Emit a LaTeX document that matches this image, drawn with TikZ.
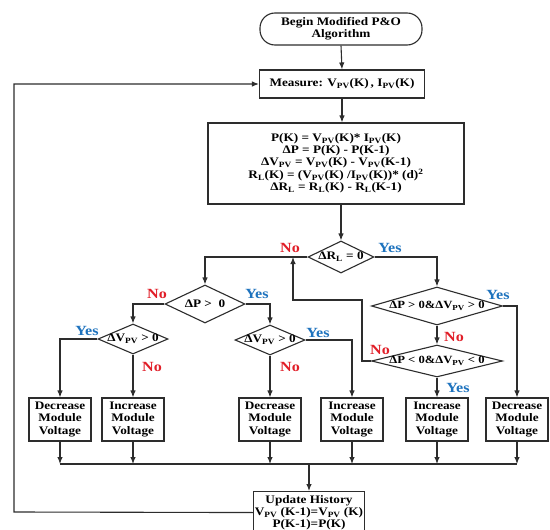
\documentclass[tikz,border=0pt]{standalone}
\usepackage{fontspec}
\setmainfont{Liberation Serif}[FakeStretch=1.15]
\usetikzlibrary{shapes.geometric,arrows.meta}
\definecolor{yesblue}{RGB}{30,115,190}
\definecolor{nored}{RGB}{225,30,40}
\definecolor{lncol}{RGB}{45,45,45}
\newcommand\sbs[1]{\textsubscript{#1}}
\begin{document}
\begin{tikzpicture}[x=1pt,y=-1pt,
  every node/.style={font=\bfseries},
  lnst/.style={draw=lncol, line width=1.1pt},
  arr/.style={lnst, -{Latex[length=7pt,width=5.5pt]}},
  box/.style={draw=lncol, line width=1.1pt, rectangle, inner sep=1pt, align=center, font=\bfseries\fontsize{11.5}{12.5}\selectfont},
  dia/.style={draw=lncol, line width=1.1pt, diamond, inner sep=0pt},
  dtxt/.style={font=\bfseries\fontsize{11.5}{12}\selectfont, inner sep=0pt},
  dtxts/.style={font=\bfseries\fontsize{11}{12}\selectfont, inner sep=0pt},
  yes/.style={text=yesblue, font=\bfseries\fontsize{14}{14}\selectfont},
  no/.style={text=nored, font=\bfseries\fontsize{14}{14}\selectfont},
]
\useasboundingbox (0,0) rectangle (550,530);
\clip (0,0) rectangle (550,530);
\fill[white] (0,0) rectangle (550,530);

% nodes
\node[box, rounded corners=15pt, minimum width=162pt, minimum height=32pt, font=\bfseries\fontsize{11.5}{12}\selectfont] (start) at (341,29) {Begin Modified P\&O\\Algorithm};
\node[box, minimum width=165pt, minimum height=28pt] (meas) at (342,84) {Measure: V\sbs{PV}(K)\,, I\sbs{PV}(K)};
\node[box, minimum width=256pt, minimum height=81pt, font=\bfseries\fontsize{11.5}{12}\selectfont] (calc) at (336,163.5) {P(K) = V\sbs{PV}(K)* I\sbs{PV}(K)\\ ΔP = P(K) - P(K-1)\\ ΔV\sbs{PV} = V\sbs{PV}(K) - V\sbs{PV}(K-1)\\ R\sbs{L}(K) = (V\sbs{PV}(K) /I\sbs{PV}(K))* (d)\textsuperscript{2}\\ ΔR\sbs{L} = R\sbs{L}(K) - R\sbs{L}(K-1)};

\node[dia, minimum width=66pt, minimum height=32pt] (d0) at (341,257) {};
\node[dtxt] at (d0) {ΔR\sbs{L} = 0};
\node[dia, minimum width=80pt, minimum height=38pt] (d1) at (205,304) {};
\node[dtxt] at (d1) {ΔP >\ \ 0};
\node[dia, minimum width=70pt, minimum height=30pt] (d2) at (133,339) {};
\node[dtxt] at (d2) {ΔV\sbs{PV} > 0};
\node[dia, minimum width=70pt, minimum height=30pt] (d3) at (270,340) {};
\node[dtxt] at (d3) {ΔV\sbs{PV} > 0};
\node[dia, minimum width=131pt, minimum height=38pt] (d4) at (437,306) {};
\node[dtxts] at (d4) {ΔP > 0\&ΔV\sbs{PV} > 0};
\node[dia, minimum width=131pt, minimum height=32pt] (d5) at (437,361) {};
\node[dtxts] at (d5) {ΔP < 0\&ΔV\sbs{PV} < 0};

\node[box, minimum width=62pt, minimum height=43pt] (b1) at (60,419.5) {Decrease\\Module\\Voltage};
\node[box, minimum width=62pt, minimum height=43pt] (b2) at (133,419.5) {Increase\\Module\\Voltage};
\node[box, minimum width=62pt, minimum height=43pt] (b3) at (270,419.5) {Decrease\\Module\\Voltage};
\node[box, minimum width=62pt, minimum height=43pt] (b4) at (352,419.5) {Increase\\Module\\Voltage};
\node[box, minimum width=62pt, minimum height=43pt] (b5) at (437,419.5) {Increase\\Module\\Voltage};
\node[box, minimum width=62pt, minimum height=43pt] (b6) at (517,419.5) {Decrease\\Module\\Voltage};

\node[box, minimum width=110pt, minimum height=42pt, anchor=north, font=\bfseries\fontsize{11.5}{12}\selectfont] (upd) at (309,491) {Update History\\V\sbs{PV} (K-1)=V\sbs{PV} (K)\\P(K-1)=P(K)};

% connectors
\draw[arr] (start.south) -- (meas.north);
\draw[arr] (meas.south) -- (meas.south |- calc.north);
\draw[arr] (calc.south -| d0) -- (d0.north);
\draw[arr] (d0.west) -| (d1.north);
\draw[arr] (d0.east) -| (d4.north);
\draw[arr] (d1.west) -| (d2.north);
\draw[arr] (d1.east) -| (d3.north);
\draw[arr] (d2.west) -| (b1.north);
\draw[arr] (d2.south) -- (b2.north);
\draw[arr] (d3.south) -- (b3.north);
\draw[arr] (d3.east) -| (b4.north);
\draw[arr] (d4.east) -| (b6.north);
\draw[arr] (d4.south) -- (d5.north);
\draw[arr] (d5.south) -- (b5.north);
\coordinate (la) at (362,300);
\coordinate (lb) at (293,300);
\draw[arr] (d5.west) -| (la) -- (lb) -- (lb |- d0);

\coordinate (bus) at (309,464);
\draw[lnst] (b1.south |- bus) -- (b6.south |- bus);
\foreach \b in {b1,b2,b3,b4,b5,b6} \draw[arr] (\b.south) -- (\b.south |- bus);
\draw[arr] (bus) -- (upd.north);
\coordinate (lc) at (14,512);
\draw[arr] (upd.west) -- (lc) |- (meas.west);

% labels
\node[no] at (290,248) {No};
\node[yes] at (390,248) {Yes};
\node[no] at (157,294) {No};
\node[yes] at (257,294) {Yes};
\node[yes] at (87,331) {Yes};
\node[no] at (152,367) {No};
\node[yes] at (318,333) {Yes};
\node[no] at (290,367) {No};
\node[yes] at (498,295) {Yes};
\node[no] at (454,337) {No};
\node[no] at (380,350) {No};
\node[yes] at (458,388) {Yes};
\end{tikzpicture}
\end{document}
